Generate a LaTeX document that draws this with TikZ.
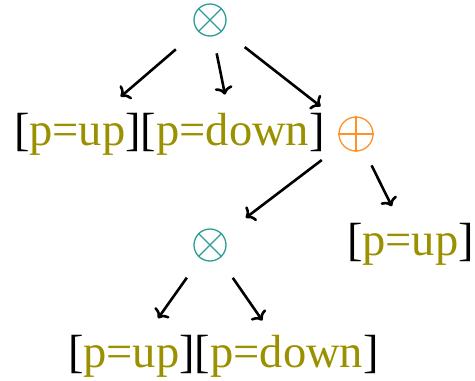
\documentclass[tikz,border=0pt]{standalone}
\usepackage{fontspec}
\setmainfont{Liberation Serif}
\usetikzlibrary{arrows.meta}
\definecolor{opteal}{RGB}{42,157,150}
\definecolor{oporange}{RGB}{255,145,40}
\definecolor{olivetext}{RGB}{155,145,0}
\begin{document}
\begin{tikzpicture}[x=1pt,y=-1pt,
  txt/.style={inner sep=0pt,outer sep=0pt,font=\fontsize{46.5}{50}\selectfont,anchor=base west},
  op/.style={circle,draw=#1,line width=1.3pt,minimum size=32pt,inner sep=0pt},
  arr/.style={line width=2.6pt,-{To[length=8pt,width=18pt]}}]
\useasboundingbox (0,0) rectangle (475,381);
\newcommand{\bx}[1]{[\textcolor{olivetext}{#1}]}
% operators
\node[op=opteal] (m1) at (210,20) {};
\draw[opteal,line width=1.3pt] (m1.45) -- (m1.225) (m1.135) -- (m1.315);
\node[op=oporange,minimum size=34pt] (pl) at (356,134) {};
\draw[oporange,line width=1.3pt] (pl.north) -- (pl.south) (pl.west) -- (pl.east);
\node[op=opteal] (m2) at (210,245) {};
\draw[opteal,line width=1.3pt] (m2.45) -- (m2.225) (m2.135) -- (m2.315);
% leaves
\node[txt] (u1) at (14,145) {\bx{p=up}};
\node[txt,anchor=base west] (d1) at (u1.base east) {\bx{p=down}};
\node[txt] (u3) at (347,255) {\bx{p=up}};
\node[txt] (u2) at (68,367) {\bx{p=up}};
\node[txt,anchor=base west] (d2) at (u2.base east) {\bx{p=down}};
% arrows
\draw[arr,shorten <=45pt,shorten >=57pt] (m1.center) -- (u1.center);
\draw[arr,shorten <=34pt,shorten >=40pt] (m1.center) -- (d1.center);
\draw[arr,shorten <=44pt,shorten >=45pt] (m1.center) -- (pl.center);
\draw[arr,shorten <=43pt,shorten >=45pt] (pl.center) -- (m2.center);
\draw[arr,shorten <=35pt,shorten >=42pt] (pl.center) -- (u3.center);
\draw[arr,shorten <=40pt,shorten >=46pt] (m2.center) -- (u2.center);
\draw[arr,shorten <=40pt,shorten >=43pt] (m2.center) -- (d2.center);
\end{tikzpicture}
\end{document}
